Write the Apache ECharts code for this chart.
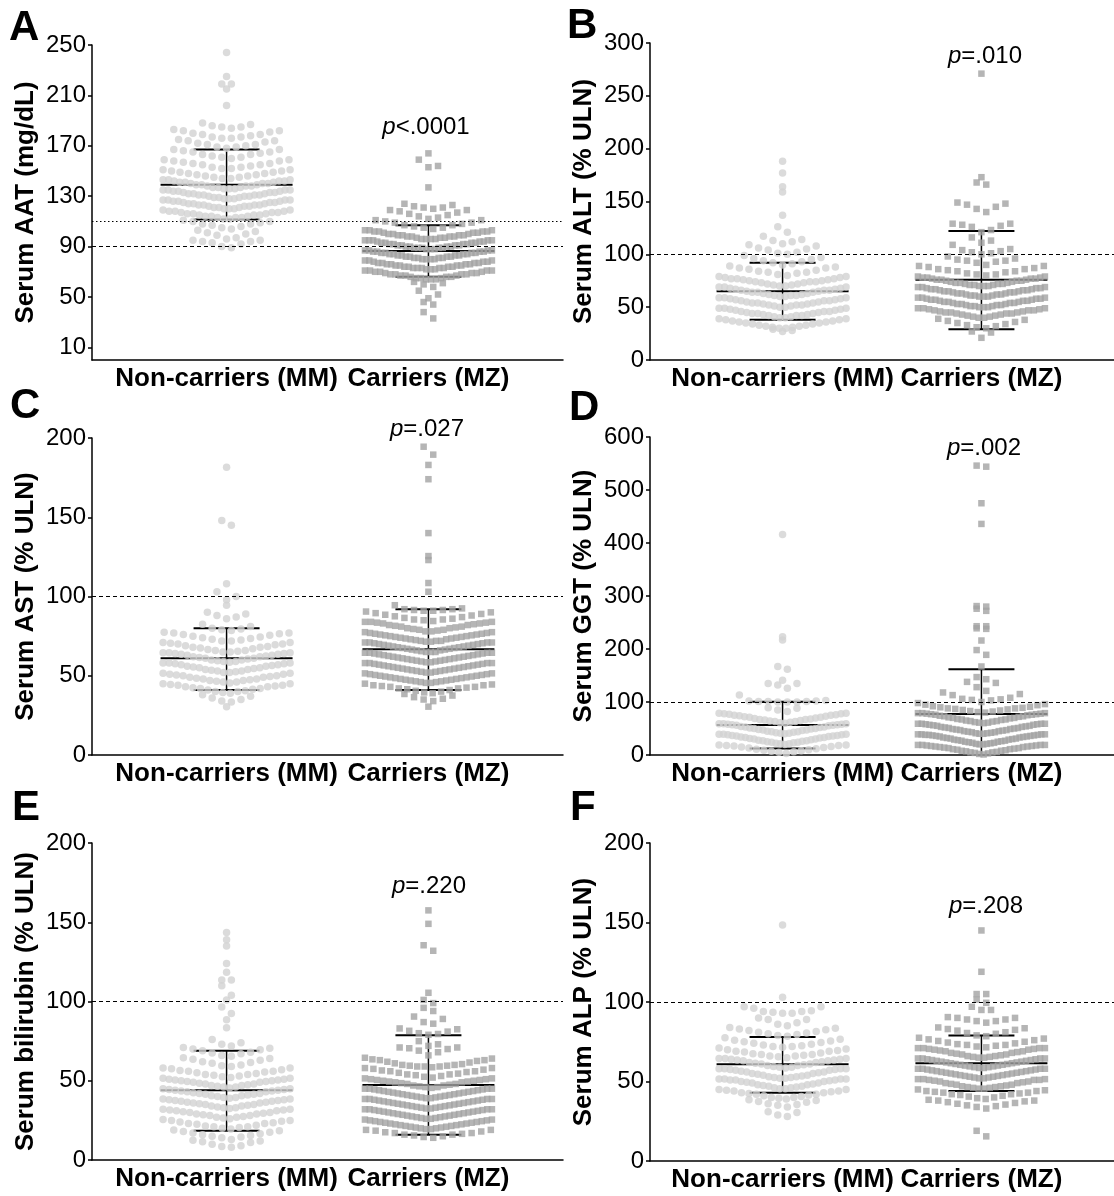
<!DOCTYPE html>
<html>
<head>
<meta charset="utf-8">
<script src="https://cdn.jsdelivr.net/npm/echarts@6/dist/echarts.min.js"></script>
<style>
  html, body { margin: 0; padding: 0; background: #fff; }
  #chart { width: 1114px; height: 1196px; }
</style>
</head>
<body>
<div id="chart"></div>
<script>
// groups on every x axis
const categories = ['Non-carriers (MM)', 'Carriers (MZ)'];
const panelLetters = ['A', 'B', 'C', 'D', 'E', 'F'];
const yTitles = ['Serum AAT (mg/dL)', 'Serum ALT (% ULN)', 'Serum AST (% ULN)',
  'Serum GGT (% ULN)', 'Serum bilirubin (% ULN)', 'Serum ALP (% ULN)'];
const yMax = [250, 300, 200, 600, 200, 200];
const yStep = [40, 50, 50, 100, 50, 50];
const aatTicks = [10, 50, 90, 130, 170, 210, 250];
const pValues = ['<.0001', '=.010', '=.027', '=.002', '=.220', '=.208'];
// dashed reference line (ULN) per panel, dotted one only in panel A
const ulnLines = [90, 100, 100, 100, 100, 100];
const aatDotted = 110;
// mean and SD bars: [mean - SD, mean, mean + SD]
const statsMM = [[111.5, 139, 167], [38, 65, 92], [41, 61, 80], [12.5, 56.5, 100.5], [18.5, 44, 69], [43, 60.8, 78]];
const statsMZ = [[66, 86.5, 107], [29, 76, 122], [41, 66.7, 92], [-7, 77.5, 162], [16, 47.3, 78.7], [44, 61.4, 79]];

// individual values
const aatMM = [244, 225, 219, 219, 215, 202,
  184, 185, 185, 186, 187, 188,
  176, 176, 177, 177, 178, 179, 179, 180, 181, 182, 182, 183,
  168, 169, 169, 170, 171, 171, 172, 173, 174, 174, 175,
  160, 161, 161, 162, 163, 163, 164, 165, 165, 166, 167, 167,
  152, 152, 153, 153, 154, 155, 155, 156, 156, 157, 158, 158, 159, 159,
  144, 144, 145, 145, 146, 146, 147, 147, 148, 148, 149, 149, 150, 150, 151, 151,
  136, 136, 136, 137, 137, 137, 138, 138, 138, 139, 139, 139, 140, 140, 140, 141, 141, 141, 142, 142, 142, 143, 143, 143,
  128, 128, 128, 129, 129, 129, 130, 130, 130, 131, 131, 131, 131, 132, 132, 132, 133, 133, 133, 134, 134, 134, 135, 135, 135, 135,
  120, 120, 120, 121, 121, 121, 122, 122, 122, 123, 123, 123, 123, 124, 124, 124, 125, 125, 125, 126, 126, 126, 127, 127, 127, 127,
  112, 112, 113, 113, 113, 114, 114, 114, 115, 115, 115, 116, 116, 116, 117, 117, 117, 118, 118, 118, 119, 119,
  104, 105, 106, 107, 108, 108, 109, 110, 110, 111,
  96, 97, 99, 100, 101, 102, 103,
  89, 90, 92, 93, 94, 94, 95, 95];
const aatMZ = [164, 153, 154, 159, 137,
  120, 121, 121, 122, 123, 124,
  112, 113, 114, 115, 116, 117, 118, 119, 119,
  104, 105, 105, 106, 107, 107, 108, 109, 109, 110, 111, 111,
  96, 96, 96, 96, 97, 97, 97, 98, 98, 98, 98, 99, 99, 99, 99, 100, 100, 100, 101, 101, 101, 102, 102, 102, 102, 103, 103, 103,
  88, 88, 88, 89, 89, 89, 89, 90, 90, 90, 91, 91, 91, 91, 92, 92, 92, 92, 93, 93, 93, 93, 94, 94, 94, 95, 95, 95, 95, 95, 89, 90,
  80, 80, 80, 81, 81, 81, 81, 82, 82, 82, 83, 83, 83, 83, 84, 84, 84, 85, 85, 85, 85, 86, 86, 86, 87, 87, 87, 87, 82, 84, 86, 80,
  72, 72, 72, 73, 73, 73, 73, 74, 74, 74, 75, 75, 75, 75, 76, 76, 76, 77, 77, 77, 77, 78, 78, 78, 79, 79, 79, 74, 76, 73,
  64, 64, 64, 65, 65, 65, 66, 66, 66, 67, 67, 67, 68, 68, 68, 68, 69, 69, 69, 70, 70, 70, 71, 71, 71, 71,
  58, 60, 61, 62, 49, 52, 55, 44, 46, 33, 38];
const altMM = [188, 177, 164, 159, 137, 121, 126,
  110, 112, 113, 114, 117,
  100, 101, 102, 104, 105, 106, 108, 109,
  90, 91, 92, 93, 94, 95, 96, 97, 99,
  80, 81, 82, 83, 83, 84, 85, 86, 87, 87, 88, 89,
  70, 70, 71, 71, 72, 72, 73, 73, 74, 74, 74, 75, 75, 76, 76, 77, 77, 77, 78, 78, 79, 79,
  60, 60, 61, 61, 61, 62, 62, 63, 63, 64, 64, 64, 65, 65, 66, 66, 66, 67, 67, 68, 68, 69, 69, 69,
  50, 50, 51, 51, 52, 52, 52, 53, 53, 54, 54, 54, 55, 55, 56, 56, 56, 57, 57, 58, 58, 59, 59, 59,
  40, 40, 41, 41, 42, 42, 42, 43, 43, 44, 44, 44, 45, 45, 46, 46, 46, 47, 47, 48, 48, 49, 49, 49,
  30, 30, 31, 31, 32, 32, 33, 33, 34, 34, 35, 35, 36, 36, 37, 37, 38, 38, 39, 39,
  27, 28, 29];
const altMZ = [271, 173, 166, 168,
  140, 143, 145, 147, 148, 149,
  121, 123, 126, 127, 128, 129, 129,
  111, 113, 116,
  100, 101, 102, 103, 104, 105, 109,
  90, 92, 93, 94, 94, 95, 96, 98,
  80, 81, 81, 82, 83, 84, 84, 85, 86, 86, 87, 88, 89, 89,
  70, 70, 70, 71, 71, 71, 72, 72, 72, 73, 73, 73, 74, 74, 75, 75, 75, 76, 76, 76, 77, 77, 77, 78, 78, 78, 79, 79,
  60, 60, 60, 61, 61, 61, 62, 62, 62, 63, 63, 63, 64, 64, 64, 65, 65, 65, 66, 66, 66, 67, 67, 67, 68, 68, 68, 69, 69, 69,
  50, 50, 50, 51, 51, 51, 52, 52, 52, 53, 53, 53, 54, 54, 54, 55, 55, 55, 56, 56, 56, 57, 57, 57, 58, 58, 58, 59, 59, 59,
  40, 40, 41, 41, 42, 42, 43, 43, 44, 44, 44, 45, 45, 45, 46, 46, 47, 47, 47, 48, 48, 49, 49, 49,
  30, 31, 32, 33, 34, 35, 36, 37, 38, 39,
  21, 26, 27];
const astMM = [181.5, 145, 148, 108, 98, 100, 103, 94.5,
  86, 87, 88, 89, 90,
  78.5, 79, 79.5, 80, 81, 82.5,
  72, 72, 72.5, 73, 73.5, 74, 74.5, 75, 75.5, 76, 76.5, 77, 77, 77.5,
  65, 65, 65.5, 66, 66, 66.5, 67, 67.5, 68, 68, 68.5, 69, 69.5, 70, 70, 70.5, 71, 71,
  58.5, 59, 59, 59.5, 60, 60, 60.5, 61, 61, 61.5, 62, 62, 62.5, 63, 63, 63.5, 63.5, 64, 64, 64.5, 64.5, 64.5,
  52, 52, 52.5, 53, 53, 53.5, 54, 54, 54.5, 55, 55, 55.5, 56, 56, 56.5, 57, 57, 57.5, 57.5, 58, 58, 58,
  45.5, 46, 46, 46.5, 47, 47, 47.5, 48, 48, 48.5, 49, 49, 49.5, 50, 50, 50.5, 51, 51, 51.5, 51.5,
  39, 39.5, 40, 40, 40.5, 41, 41.5, 42, 42, 42.5, 43, 43, 43.5, 44, 44, 44.5, 45, 45,
  33.5, 34, 35, 36, 37, 38, 30.5];
const astMZ = [189.5, 194.5, 183, 174, 140, 125.5, 123, 108.5, 103,
  91, 91, 91.5, 91.5, 92, 92, 92.5, 94.5,
  84.5, 85, 85.5, 85.5, 86, 86.5, 87, 87.5, 88, 88.5, 89, 89.5, 90, 90.5,
  78, 78, 78.5, 79, 79, 79.5, 80, 80, 80.5, 81, 81, 81.5, 82, 82, 82.5, 83, 83, 83.5, 83.5, 84, 84, 84,
  71.5, 71.5, 72, 72, 72, 72.5, 73, 73, 73.5, 73.5, 74, 74, 74.5, 74.5, 75, 75, 75.5, 75.5, 76, 76, 76.5, 76.5, 77, 77, 77.5, 77.5,
  65, 65, 65, 65.5, 66, 66, 66.5, 66.5, 67, 67, 67.5, 67.5, 68, 68, 68.5, 68.5, 69, 69, 69.5, 69.5, 70, 70, 70.5, 70.5, 71, 71, 71, 71,
  58.5, 58.5, 59, 59, 59.5, 59.5, 60, 60, 60.5, 60.5, 61, 61, 61.5, 61.5, 62, 62, 62.5, 62.5, 63, 63, 63.5, 63.5, 64, 64, 64.5, 64.5, 64.5, 64.5,
  52, 52, 52.5, 52.5, 53, 53, 53.5, 53.5, 54, 54, 54.5, 54.5, 55, 55, 55.5, 55.5, 56, 56, 56.5, 56.5, 57, 57, 57.5, 57.5, 58, 58, 58, 58,
  45.5, 45.5, 46, 46, 46.5, 46.5, 47, 47, 47.5, 47.5, 48, 48, 48.5, 48.5, 49, 49, 49.5, 49.5, 50, 50, 50.5, 50.5, 51, 51, 51.5, 51.5,
  39, 39.5, 40, 40.5, 41, 41.5, 42, 42, 42.5, 43, 43, 43.5, 44, 44, 44.5, 45,
  34, 35, 35.5, 36.5, 37.5, 38.5, 30.5];
const ggtMM = [416, 223, 217, 162, 167, 141, 126, 132, 135, 135,
  100, 100, 100, 101, 101, 101, 102, 102, 103, 113,
  82, 85, 88, 89,
  60, 61, 62, 63, 63, 64, 65, 66, 67, 67, 68, 69, 70, 71, 71, 72, 73, 74, 75, 75, 76, 77, 78, 78, 79, 79,
  40, 41, 41, 42, 43, 44, 44, 45, 46, 47, 47, 48, 49, 50, 50, 51, 52, 53, 53, 54, 55, 56, 56, 57, 57, 58, 58, 59, 59, 59,
  20, 21, 21, 22, 23, 24, 24, 25, 26, 27, 27, 28, 29, 30, 30, 31, 32, 33, 33, 34, 35, 36, 36, 37, 37, 38, 38, 39, 39, 39,
  3, 5, 6, 7, 8, 9, 10, 11, 12, 13, 14, 15, 16, 17, 18, 18, 19, 19];
const ggtMZ = [544, 546, 475, 436, 280, 281, 272, 276, 243, 243, 238, 239, 216, 189, 198, 167, 143, 147,
  121, 128, 136, 138,
  100, 103, 104, 105, 106, 108, 113, 115, 118,
  80, 81, 82, 83, 84, 85, 86, 87, 88, 88, 89, 90, 91, 92, 94, 95, 96, 98,
  60, 61, 61, 62, 63, 64, 64, 65, 66, 67, 67, 68, 69, 70, 70, 71, 72, 73, 73, 74, 75, 76, 76, 77, 77, 78, 78, 79, 79, 79,
  40, 40, 41, 41, 42, 43, 43, 44, 45, 45, 46, 47, 47, 48, 49, 49, 50, 51, 51, 52, 53, 53, 54, 55, 55, 56, 57, 57, 58, 58, 59, 59, 59, 59,
  20, 20, 21, 21, 22, 23, 23, 24, 25, 25, 26, 27, 27, 28, 29, 29, 30, 31, 31, 32, 33, 33, 34, 35, 35, 36, 37, 37, 38, 38, 39, 39, 39, 39, 38, 36,
  1, 2, 3, 4, 5, 5, 6, 7, 8, 8, 9, 10, 11, 11, 12, 13, 13, 14, 15, 15, 16, 16, 17, 17, 18, 18, 19, 19, 19, 19];
const bilMM = [143.5, 139, 135, 124, 118.5, 113.5, 113.5, 104, 110, 101, 92.5, 96.5, 88.5, 83.5,
  72, 73, 74, 76,
  65.5, 66, 67, 67.5, 68, 69, 69.5, 70, 70.5, 71,
  59, 59.5, 60, 61, 61.5, 62, 63, 63.5, 64, 64.5,
  52, 52.5, 53, 53.5, 54, 54, 54.5, 55, 55.5, 56, 56, 56.5, 57, 57.5, 58, 58,
  45.5, 46, 46, 46.5, 47, 47, 47.5, 48, 48, 48.5, 49, 49, 49.5, 49.5, 50, 50, 50.5, 50.5, 51, 51, 51.5, 51.5,
  39, 39.5, 39.5, 40, 40.5, 40.5, 41, 41.5, 41.5, 42, 42, 42.5, 43, 43, 43.5, 43.5, 44, 44, 44.5, 44.5, 45, 45,
  32.5, 33, 33, 33.5, 34, 34, 34.5, 35, 35, 35.5, 36, 36, 36.5, 36.5, 37, 37, 37.5, 37.5, 38, 38, 38.5, 38.5,
  26, 26.5, 27, 27, 27.5, 28, 28, 28.5, 29, 29, 29.5, 30, 30, 30.5, 31, 31, 31.5, 31.5, 32, 32,
  19.5, 20, 20.5, 21, 21, 21.5, 22, 22.5, 23, 23, 23.5, 24, 24.5, 25, 25, 25.5,
  13, 14, 14.5, 15, 15.5, 16, 16.5, 17, 17.5, 18, 18.5, 19,
  8, 8.5, 9, 10, 11, 11.5, 12, 12.5];
const bilMZ = [157.5, 149, 132, 135.5, 105.5, 99, 101, 94, 96,
  86, 87, 89, 90.5,
  79, 79.5, 80, 81, 81.5, 82.5, 83,
  72, 73, 75,
  66, 68, 69, 70, 70.5, 71, 71,
  58.5, 59, 59, 59, 59.5, 59.5, 60, 60, 60.5, 61, 61.5, 62, 62.5, 63, 63, 63.5, 64, 64.5,
  52, 52.5, 53, 53.5, 54, 54, 54.5, 55, 55.5, 56, 56, 56.5, 57, 57.5, 58, 58,
  45.5, 46, 46, 46.5, 47, 47, 47.5, 48, 48, 48.5, 49, 49, 49.5, 49.5, 50, 50, 50.5, 50.5, 51, 51, 51.5, 51.5,
  39, 39, 39.5, 39.5, 40, 40, 40.5, 40.5, 41, 41, 41.5, 41.5, 42, 42, 42.5, 42.5, 43, 43, 43.5, 43.5, 44, 44, 44.5, 44.5, 45, 45, 45, 45,
  32.5, 32.5, 33, 33, 33.5, 33.5, 34, 34, 34.5, 34.5, 35, 35, 35.5, 35.5, 36, 36, 36.5, 36.5, 37, 37, 37.5, 37.5, 38, 38, 38.5, 38.5, 38.5, 38.5,
  26, 26, 26.5, 26.5, 27, 27, 27.5, 27.5, 28, 28, 28.5, 28.5, 29, 29, 29.5, 29.5, 30, 30, 30.5, 30.5, 31, 31, 31.5, 31.5, 32, 32, 32, 32,
  19.5, 19.5, 20, 20, 20.5, 20.5, 21, 21, 21.5, 21.5, 22, 22, 22.5, 22.5, 23, 23, 23.5, 23.5, 24, 24, 24.5, 24.5, 25, 25, 25.5, 25.5,
  14, 14.5, 15, 15.5, 16, 16, 16.5, 17, 17, 17.5, 18, 18.5, 19, 19];
const alpMM = [148.5, 103,
  93, 93, 93.5, 94, 94, 94.5, 96, 97, 97,
  85, 86, 87, 89, 89, 90,
  78.5, 79, 79.5, 80, 80.5, 81, 81.5, 82, 82.5, 83, 83.5, 84,
  71.5, 72, 72, 72.5, 73, 73.5, 74, 74.5, 75, 75.5, 76, 76.5, 77.5,
  65, 65.5, 66, 66, 66.5, 67, 67, 67.5, 68, 68.5, 69, 69, 69.5, 70, 70.5, 71,
  58.5, 59, 59, 59.5, 60, 60, 60.5, 61, 61, 61.5, 62, 62, 62.5, 63, 63, 63.5, 63.5, 64, 64, 64.5, 64.5, 64.5,
  52, 52, 52.5, 52.5, 53, 53, 53.5, 54, 54, 54.5, 55, 55, 55.5, 56, 56, 56.5, 57, 57, 57.5, 57.5, 58, 58, 58, 58,
  45.5, 45.5, 46, 46, 46.5, 47, 47, 47.5, 48, 48, 48.5, 49, 49, 49.5, 50, 50, 50.5, 51, 51, 51, 51.5, 51.5, 51.5, 51.5,
  39, 39.5, 40, 40, 40.5, 41, 41.5, 42, 42, 42.5, 43, 43, 43.5, 44, 44, 44.5, 45, 45,
  34, 35, 35.5, 36, 37, 37.5, 38, 38.5,
  28, 29, 30.5, 31];
const alpMZ = [145, 119, 105, 105, 99.5, 101.5, 95, 95, 97,
  87, 88, 88, 89, 89, 90, 90, 90.5,
  78.5, 79, 80, 80.5, 81, 82, 82.5, 83, 83.5, 84,
  71.5, 72, 72.5, 73, 73, 73.5, 74, 74.5, 75, 75.5, 76, 76.5, 77, 77.5,
  65, 65, 65.5, 65.5, 66, 66, 66.5, 67, 67, 67.5, 68, 68, 68.5, 69, 69, 69.5, 70, 70, 70.5, 70.5, 71, 71, 71, 71,
  58.5, 58.5, 59, 59, 59.5, 59.5, 60, 60, 60.5, 60.5, 61, 61, 61.5, 61.5, 62, 62, 62.5, 62.5, 63, 63, 63.5, 63.5, 64, 64, 64.5, 64.5, 64.5, 64.5,
  52, 52, 52.5, 52.5, 53, 53, 53.5, 53.5, 54, 54, 54.5, 54.5, 55, 55, 55.5, 55.5, 56, 56, 56.5, 56.5, 57, 57, 57.5, 57.5, 58, 58, 58, 58,
  45.5, 45.5, 46, 46, 46.5, 46.5, 47, 47, 47.5, 48, 48, 48.5, 49, 49, 49.5, 50, 50, 50.5, 51, 51, 51, 51.5, 51.5, 51.5,
  39, 39.5, 40, 40.5, 41, 41.5, 42, 42, 42.5, 43, 43, 43.5, 44, 44, 44.5, 45,
  33, 34, 34.5, 35, 35.5, 36, 36.5, 37, 37.5, 38, 38, 38.5,
  15.5, 19];

const valuesMM = [aatMM, altMM, astMM, ggtMM, bilMM, alpMM];
const valuesMZ = [aatMZ, altMZ, astMZ, ggtMZ, bilMZ, alpMZ];

// layout
const FONT = 'Liberation Sans';
const GRIDS = [
  { left: 92, top: 45, width: 471, height: 315 },
  { left: 650, top: 43, width: 464, height: 317 },
  { left: 92, top: 438, width: 471, height: 317 },
  { left: 650, top: 437, width: 464, height: 318 },
  { left: 92, top: 843, width: 471, height: 317 },
  { left: 650, top: 843, width: 464, height: 318 }
];
const ROW_BIN = [8, 10, 6.5, 20, 6.5, 6.5];   // value height of one swarm row
const LETTER_POS = [[9, 28], [567, 26], [10, 406], [569, 408], [12, 808], [570, 808]];
const P_POS = [[426, 127], [985, 56], [427, 429], [984, 448], [429, 886], [986, 906]];
const X_MIN = 1 / 3, X_MAX = 8 / 3;
const STEP_PX = 9.6, MAX_SPAN_PX = 127;
const MEAN_HALF = 66, CAP_HALF = 33;

// spread each row of values sideways, lowest value in the middle
function swarm(values, center, bin, pxPerX) {
  const rows = {};
  values.forEach(v => {
    const k = Math.floor(v / bin);
    (rows[k] = rows[k] || []).push(v);
  });
  const out = [];
  Object.keys(rows).forEach(k => {
    const r = rows[k].slice().sort((a, b) => a - b);
    const n = r.length;
    const step = n > 1 ? Math.min(STEP_PX, MAX_SPAN_PX / (n - 1)) : 0;
    r.forEach((v, i) => {
      let slot;
      if (n % 2) slot = i === 0 ? 0 : Math.ceil(i / 2) * (i % 2 ? 1 : -1);
      else slot = (Math.floor(i / 2) + 0.5) * (i % 2 ? -1 : 1);
      out.push([center + slot * step / pxPerX, v]);
    });
  });
  return out;
}

function errorBar(params, api) {
  const x = api.value(0);
  const lo = api.coord([x, api.value(1)]);
  const mid = api.coord([x, api.value(2)]);
  const hi = api.coord([x, api.value(3)]);
  const ln = (x1, y1, x2, y2, w) => ({
    type: 'line', shape: { x1: x1, y1: y1, x2: x2, y2: y2 },
    style: { stroke: '#000', lineWidth: w }
  });
  return {
    type: 'group', children: [
      ln(mid[0], lo[1], mid[0], hi[1], 1.5),
      ln(mid[0] - MEAN_HALF, mid[1], mid[0] + MEAN_HALF, mid[1], 2),
      ln(mid[0] - CAP_HALF, lo[1], mid[0] + CAP_HALF, lo[1], 2),
      ln(mid[0] - CAP_HALF, hi[1], mid[0] + CAP_HALF, hi[1], 2)
    ]
  };
}

const grid = [], xAxis = [], yAxis = [], series = [], graphic = [];

GRIDS.forEach((g, i) => {
  grid.push({ left: g.left, top: g.top, width: g.width, height: g.height });
  xAxis.push({
    type: 'value', gridIndex: i, min: X_MIN, max: X_MAX,
    splitLine: { show: false }, axisTick: { show: false },
    axisLine: { lineStyle: { color: '#000', width: 1.5 } },
    axisLabel: {
      customValues: [1, 2], formatter: v => categories[Math.round(v) - 1],
      color: '#000', fontWeight: 'bold', fontSize: 26, fontFamily: FONT, margin: 6
    }
  });
  const y = {
    type: 'value', gridIndex: i, min: 0, max: yMax[i],
    splitLine: { show: false },
    axisLine: { show: true, lineStyle: { color: '#000', width: 1.5 } },
    axisTick: { show: true, length: 4, lineStyle: { color: '#000', width: 1.5 } },
    axisLabel: { color: '#000', fontSize: 24, fontFamily: FONT, margin: 6 },
    name: yTitles[i], nameLocation: 'middle', nameGap: 53,
    nameTextStyle: { color: '#000', fontWeight: 'bold', fontSize: 26, fontFamily: FONT }
  };
  if (i === 0) {
    y.axisTick.customValues = aatTicks;
    y.axisLabel.customValues = aatTicks;
  } else {
    y.interval = yStep[i];
  }
  yAxis.push(y);

  const pxPerX = g.width / (X_MAX - X_MIN);
  const refs = [{ yAxis: ulnLines[i] }];
  if (i === 0) refs.push({ yAxis: aatDotted, lineStyle: { type: [1.5, 2.5] } });

  series.push({
    type: 'line', xAxisIndex: i, yAxisIndex: i, data: [], z: 1,
    markLine: {
      silent: true, symbol: 'none', animation: false, label: { show: false },
      lineStyle: { color: '#000', width: 1, type: [4, 3] }, data: refs
    }
  });
  series.push({
    type: 'custom', xAxisIndex: i, yAxisIndex: i, z: 2, clip: true,
    renderItem: errorBar, encode: { x: 0, y: [1, 2, 3] },
    data: [[1].concat(statsMM[i]), [2].concat(statsMZ[i])]
  });
  series.push({
    type: 'scatter', xAxisIndex: i, yAxisIndex: i, z: 3,
    symbol: 'circle', symbolSize: 7.5,
    itemStyle: { color: '#d2d2d2' },
    data: swarm(valuesMM[i], 1, ROW_BIN[i], pxPerX)
  });
  series.push({
    type: 'scatter', xAxisIndex: i, yAxisIndex: i, z: 3,
    symbol: 'rect', symbolSize: 6.5,
    itemStyle: { color: '#a3a3a3' },
    data: swarm(valuesMZ[i], 2, ROW_BIN[i], pxPerX)
  });

  graphic.push({
    type: 'text', x: LETTER_POS[i][0], y: LETTER_POS[i][1],
    style: {
      text: panelLetters[i], fill: '#000', fontSize: 42, fontWeight: 'bold',
      fontFamily: FONT, verticalAlign: 'middle'
    }
  });
  graphic.push({
    type: 'text', x: P_POS[i][0], y: P_POS[i][1],
    style: {
      text: '{i|p}{n|' + pValues[i] + '}',
      align: 'center', verticalAlign: 'middle',
      rich: {
        i: { fontStyle: 'italic', fontSize: 24, fontFamily: FONT, fill: '#000' },
        n: { fontSize: 24, fontFamily: FONT, fill: '#000' }
      }
    }
  });
});

const chart = echarts.init(document.getElementById('chart'));
chart.setOption({
  animation: false,
  backgroundColor: '#fff',
  textStyle: { fontFamily: FONT },
  grid: grid,
  xAxis: xAxis,
  yAxis: yAxis,
  series: series,
  graphic: graphic
});
window.addEventListener('resize', () => chart.resize());
</script>
</body>
</html>
